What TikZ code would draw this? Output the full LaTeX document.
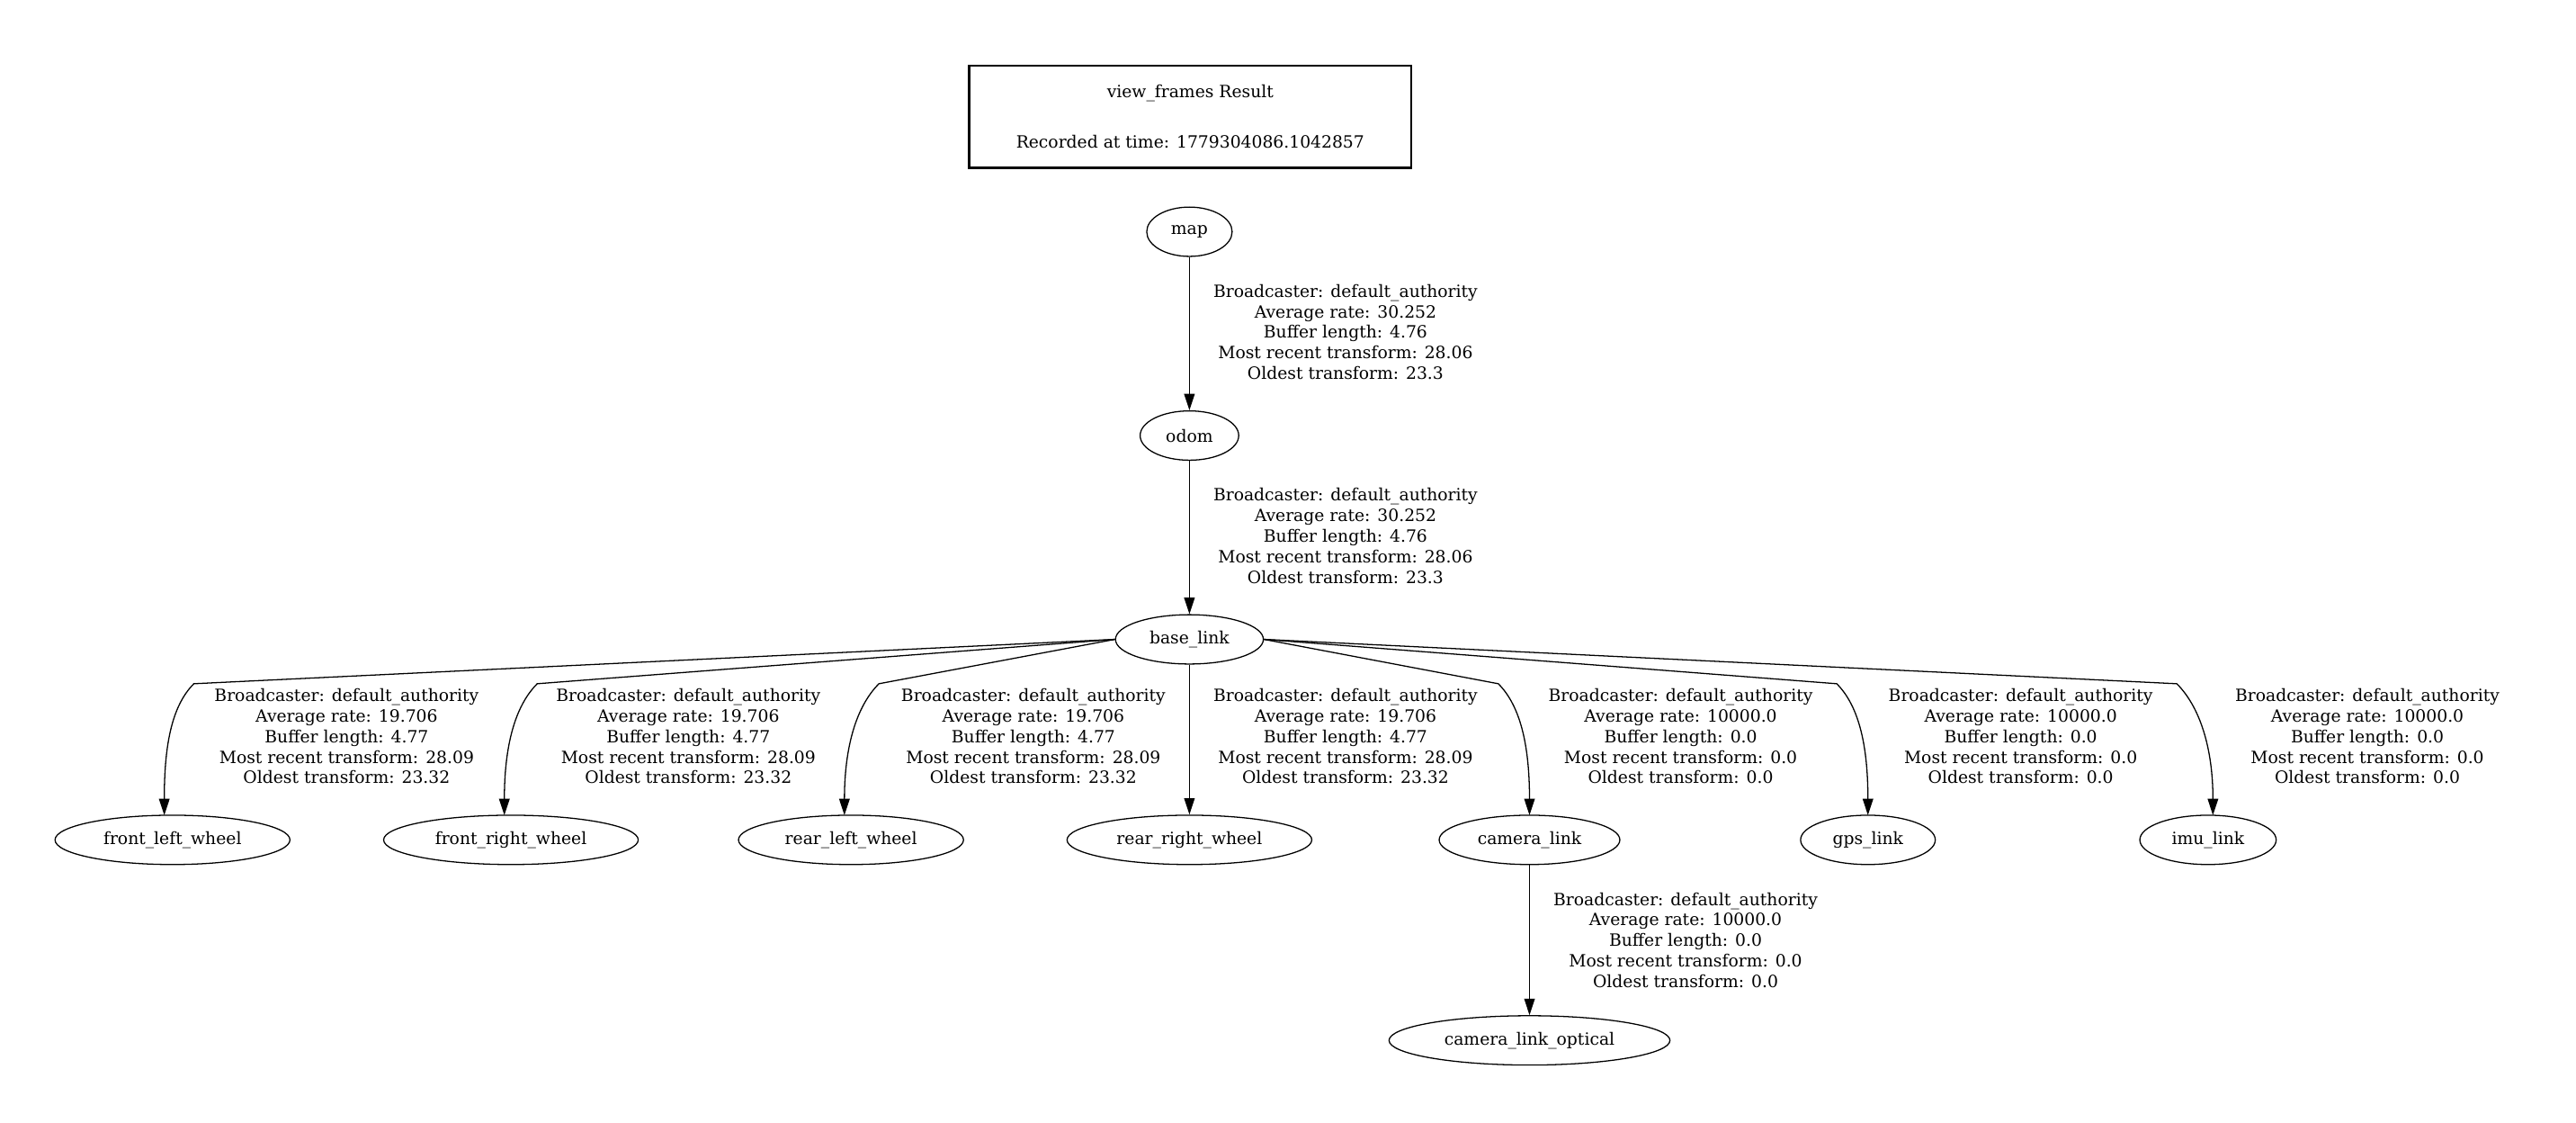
\documentclass[tikz,border=0pt]{standalone}
\usepackage{fontspec}
\setmainfont{DejaVu Serif}
\usetikzlibrary{arrows.meta,calc,positioning,shapes.geometric}
\tikzset{
  frame/.style={draw,ellipse,line width=0.5pt,inner sep=0pt},
  edge/.style={line width=0.5pt,-{Triangle[length=2.5mm,width=1.6mm]}},
  info/.style={align=center,inner sep=0pt,font=\fontsize{7.3}{8.9}\selectfont}
}
\newcommand\tfinfo[4]{Broadcaster: default\_authority\\Average rate: #1\\Buffer length: #2\\Most recent transform: #3\\Oldest transform: #4}
\begin{document}
\begin{tikzpicture}[x=0.025cm,y=-0.025cm,font=\fontsize{7.3}{8.9}\selectfont]
  \useasboundingbox (0,0) rectangle (1568,683);
  % title
  \node[draw,line width=1pt,minimum width=269*0.025cm,minimum height=62*0.025cm,align=center] (title) at (724.5,71)
    {view\_frames Result\\[13pt]Recorded at time: 1779304086.1042857};
  % frames
  \node[frame,minimum width=52*0.025cm,minimum height=30*0.025cm] (map) at (724,141) {map};
  \node[frame,minimum width=60*0.025cm,minimum height=30*0.025cm] (odom) at (724,265) {odom};
  \node[frame,minimum width=90*0.025cm,minimum height=30*0.025cm] (bl) at (724,389) {base\_link};
  \foreach \n/\x/\w/\t in {flw/105/143/front\_left\_wheel, frw/311/155/front\_right\_wheel,
      rlw/518/137/rear\_left\_wheel, rrw/724/149/rear\_right\_wheel, cam/931/110/camera\_link,
      gps/1137/82/gps\_link, imu/1344/83/imu\_link}
    \node[frame,minimum width=\w*0.025cm,minimum height=30*0.025cm] (\n) at (\x,511) {\t};
  \node[frame,minimum width=171*0.025cm,minimum height=30*0.025cm] (opt) at (931,633) {camera\_link\_optical};
  % straight edges
  \draw[edge] (map) -- (odom);
  \draw[edge] (odom) -- (bl);
  \draw[edge] (bl) -- (rrw);
  \draw[edge] (cam) -- (opt);
  % curved edges
  \foreach \n/\cx/\ex/\s/\a in {flw/118/100/1/west, frw/327/307/1/west, rlw/535/514/1/west,
      cam/912/931/-1/east, gps/1118/1137/-1/east, imu/1325/1347/-1/east}
    \draw[edge] (bl.\a) .. controls ($(bl.\a)!.8!(\cx,416)$) .. (\cx,416)
      .. controls ($(\cx,416)+(-\s*14,14)$) and (\ex,455) .. (\ex,496);
  % labels
  \node[info] (l1) at (819,202) {\tfinfo{30.252}{4.76}{28.06}{23.3}};
  \node[info] (l2) at (819,326) {\tfinfo{30.252}{4.76}{28.06}{23.3}};
  \foreach \x in {211,419,629,819}
    \node[info] at (\x,448) {\tfinfo{19.706}{4.77}{28.09}{23.32}};
  \foreach \x in {1023,1230,1441}
    \node[info] at (\x,448) {\tfinfo{10000.0}{0.0}{0.0}{0.0}};
  \node[info] (l3) at (1026,572) {\tfinfo{10000.0}{0.0}{0.0}{0.0}};
\end{tikzpicture}
\end{document}
